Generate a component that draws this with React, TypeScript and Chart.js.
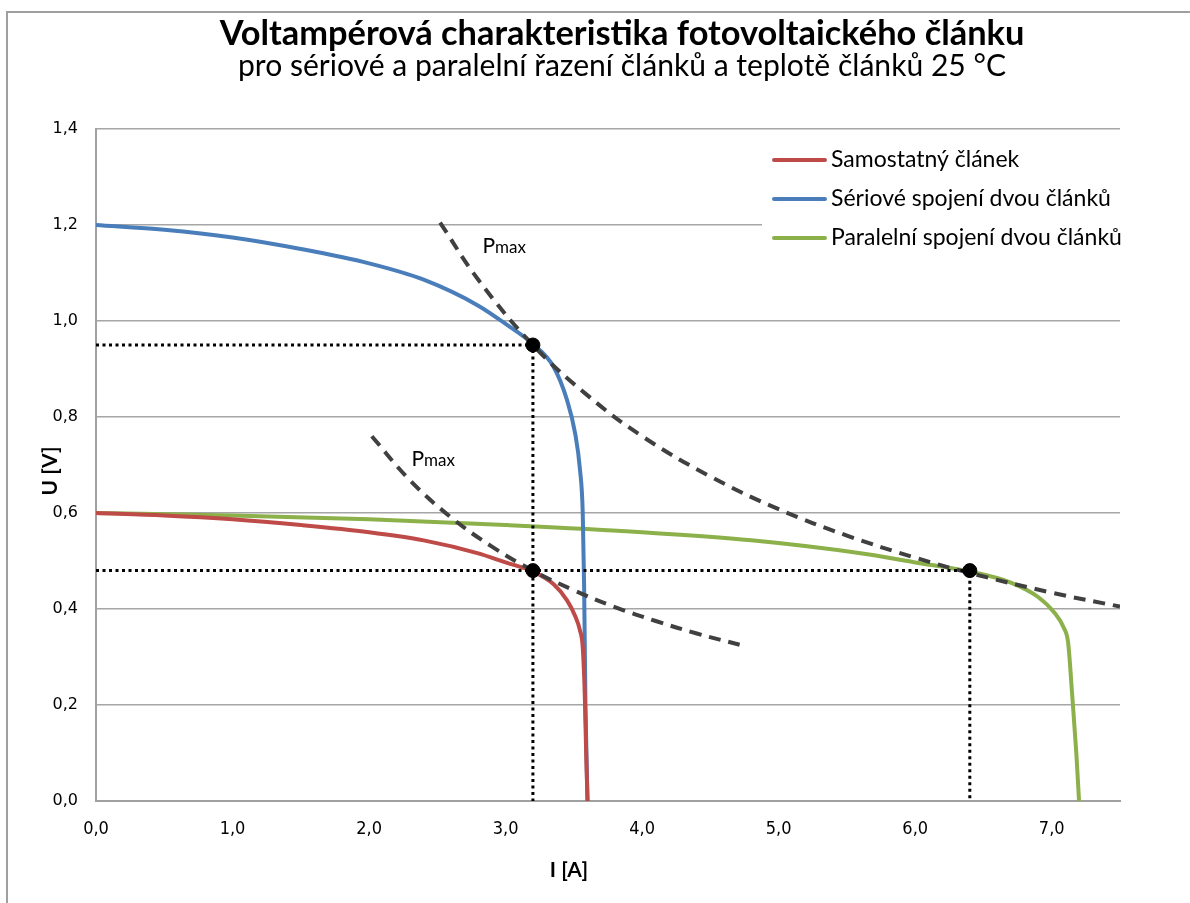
import React, { useEffect, useRef } from "react";
import { Chart, registerables } from "chart.js";

Chart.register(...registerables);

const TITLE = "Voltampérová charakteristika fotovoltaického článku";
const SUBTITLE = "pro sériové a paralelní řazení článků a teplotě článků 25 °C";
const X_TITLE = "I [A]";
const Y_TITLE = "U [V]";
const SERIES_LABELS = ["Samostatný článek", "Sériové spojení dvou článků", "Paralelní spojení dvou článků"];
const PMAX_LABEL = ["P", "max"];

// Samostatný článek (single cell)
const singleI = [0, 0.5, 1.0, 1.5, 2.0, 2.4, 2.8, 3.0, 3.2, 3.35, 3.45, 3.51, 3.545, 3.565, 3.58, 3.59, 3.6];
const singleU = [0.600, 0.595, 0.587, 0.575, 0.560, 0.543, 0.516, 0.497, 0.478, 0.452, 0.418, 0.385, 0.355, 0.32, 0.22, 0.10, 0.0];
// Sériové spojení
const seriesI = [0, 0.5, 1.0, 1.5, 2.0, 2.4, 2.8, 3.0, 3.2, 3.35, 3.45, 3.51, 3.545, 3.565, 3.575, 3.585, 3.6];
const seriesU = [1.200, 1.190, 1.174, 1.150, 1.120, 1.086, 1.032, 0.994, 0.952, 0.905, 0.835, 0.765, 0.690, 0.60, 0.45, 0.20, 0.0];
// Paralelní spojení
const parallelI = [0, 1.0, 2.0, 3.0, 4.0, 4.8, 5.6, 6.0, 6.4, 6.7, 6.9, 7.02, 7.09, 7.12, 7.15, 7.18, 7.2];
const parallelU = [0.600, 0.595, 0.587, 0.575, 0.560, 0.543, 0.516, 0.497, 0.478, 0.455, 0.425, 0.392, 0.360, 0.33, 0.22, 0.10, 0.0];

// Pmax curves (dashed)
const pmaxSingleI = [2.02, 2.3, 2.6, 2.9, 3.2, 3.5, 3.8, 4.1, 4.4, 4.75];
const pmaxSingleU = [0.760, 0.668, 0.591, 0.530, 0.480, 0.439, 0.404, 0.375, 0.349, 0.323];
const pmaxSeriesI = [2.52, 2.8, 3.2, 3.6, 4.0, 4.5, 5.0, 5.5, 6.0, 6.4, 7.0, 7.5];
const pmaxSeriesU = [1.205, 1.086, 0.950, 0.845, 0.760, 0.676, 0.608, 0.553, 0.507, 0.475, 0.434, 0.405];

// Maximum power points
const mppI = [3.2, 3.2, 6.4];
const mppU = [0.95, 0.48, 0.48];

// Pmax label anchors (data coords)
const pmaxLabelI = [2.83, 2.31];
const pmaxLabelU = [1.158, 0.715];

const X_MIN = 0, X_MAX = 7.5, X_STEP = 1.0;
const Y_MIN = 0, Y_MAX = 1.4, Y_STEP = 0.2;

const COLORS = ["#BE4B48", "#4A7EBB", "#8CB04A"];
const FONT = "Lato, 'Open Sans', sans-serif";

const pts = (xs: number[], ys: number[]) => xs.map((x, i) => ({ x, y: ys[i] }));
const fmt = (v: number) => v.toFixed(1).replace(".", ",");

function fitFont(ctx: CanvasRenderingContext2D, text: string, weight: string, target: number, base: number) {
  ctx.font = `${weight} ${base}px ${FONT}`;
  const w = ctx.measureText(text).width;
  const size = base * target / w;
  return `${weight} ${size.toFixed(2)}px ${FONT}`;
}

const decor = {
  id: "decor",
  beforeDraw(chart: any) {
    const ctx = chart.ctx as CanvasRenderingContext2D;
    ctx.save();
    ctx.fillStyle = "#ffffff";
    ctx.fillRect(0, 0, chart.width, chart.height);
    ctx.strokeStyle = "#a0a0a0";
    ctx.lineWidth = 2;
    ctx.beginPath();
    ctx.moveTo(7, chart.height + 5);
    ctx.lineTo(7, 12);
    ctx.lineTo(chart.width + 5, 12);
    ctx.stroke();
    ctx.restore();
  },
  afterDatasetsDraw(chart: any) {
    const ctx = chart.ctx as CanvasRenderingContext2D;
    const xs = chart.scales.x;
    const ys = chart.scales.y;
    ctx.save();
    // legend box
    ctx.fillStyle = "#ffffff";
    ctx.fillRect(762, 140, 380, 122);
    const items = chart.data.datasets.filter((d: any) => SERIES_LABELS.includes(d.label));
    items.forEach((d: any, i: number) => {
      const yc = 160 + i * 39;
      ctx.strokeStyle = d.borderColor;
      ctx.lineWidth = 4;
      ctx.lineCap = "round";
      ctx.beginPath();
      ctx.moveTo(774, yc);
      ctx.lineTo(825, yc);
      ctx.stroke();
      ctx.fillStyle = "#000";
      ctx.font = `23px ${FONT}`;
      ctx.textAlign = "left";
      ctx.textBaseline = "middle";
      ctx.fillText(d.label, 831, yc);
    });
    // Pmax labels
    pmaxLabelI.forEach((iv, k) => {
      const px = xs.getPixelForValue(iv);
      const py = ys.getPixelForValue(pmaxLabelU[k]);
      ctx.fillStyle = "#000";
      ctx.textBaseline = "alphabetic";
      ctx.textAlign = "left";
      ctx.font = `21px ${FONT}`;
      ctx.fillText(PMAX_LABEL[0], px, py + 8);
      const w = ctx.measureText(PMAX_LABEL[0]).width;
      ctx.font = `17px ${FONT}`;
      ctx.fillText(PMAX_LABEL[1], px + w, py + 8);
    });
    ctx.restore();
  },
  afterDraw(chart: any) {
    const ctx = chart.ctx as CanvasRenderingContext2D;
    ctx.save();
    ctx.fillStyle = "#000";
    ctx.textAlign = "center";
    ctx.textBaseline = "alphabetic";
    ctx.font = fitFont(ctx, TITLE, "bold", 805, 30);
    ctx.fillText(TITLE, 622, 45);
    ctx.font = fitFont(ctx, SUBTITLE, "normal", 768, 26);
    ctx.fillText(SUBTITLE, 622, 76);
    ctx.font = `bold 21px ${FONT}`;
    ctx.textBaseline = "middle";
    ctx.fillText(X_TITLE, 569, 870);
    ctx.translate(50, 471);
    ctx.rotate(-Math.PI / 2);
    ctx.fillText(Y_TITLE, 0, 0);
    ctx.restore();
  },
};

export default function App() {
  const ref = useRef<HTMLCanvasElement | null>(null);
  useEffect(() => {
    if (!ref.current) return;
    const lineDs = (label: string, data: any[], color: string, order: number) => ({
      label,
      data,
      borderColor: color,
      backgroundColor: color,
      borderWidth: 4,
      showLine: true,
      pointRadius: 0,
      cubicInterpolationMode: "monotone" as const,
      order,
    });
    const dotted = { borderColor: "#000", borderWidth: 3, borderDash: [3, 3.5], showLine: true, pointRadius: 0, order: 1 };
    const dashed = { borderColor: "#404040", borderWidth: 4, borderDash: [12, 8], showLine: true, pointRadius: 0, tension: 0.4, order: 2 };
    const chart = new Chart(ref.current, {
      type: "scatter",
      data: {
        datasets: [
          lineDs(SERIES_LABELS[0], pts(singleI, singleU), COLORS[0], 3),
          lineDs(SERIES_LABELS[1], pts(seriesI, seriesU), COLORS[1], 4),
          lineDs(SERIES_LABELS[2], pts(parallelI, parallelU), COLORS[2], 5),
          { label: "Pmax 1", data: pts(pmaxSingleI, pmaxSingleU), ...dashed },
          { label: "Pmax 2", data: pts(pmaxSeriesI, pmaxSeriesU), ...dashed },
          { label: "g1", data: [{ x: X_MIN, y: mppU[0] }, { x: mppI[0], y: mppU[0] }, { x: mppI[0], y: Y_MIN }], ...dotted },
          { label: "g2", data: [{ x: X_MIN, y: mppU[1] }, { x: mppI[2], y: mppU[2] }, { x: mppI[2], y: Y_MIN }], ...dotted },
          { label: "MPP", data: pts(mppI, mppU), pointRadius: 7, pointBackgroundColor: "#000", pointBorderColor: "#000", showLine: false, order: 0 } as any,
        ] as any,
      },
      options: {
        animation: false,
        responsive: false,
        layout: { padding: { top: 129, right: 70, left: 0, bottom: 0 } },
        plugins: { legend: { display: false }, tooltip: { enabled: false }, title: { display: false } },
        scales: {
          x: {
            type: "linear",
            min: X_MIN,
            max: X_MAX,
            grid: { display: false, drawTicks: false },
            border: { display: true, color: "#a0a0a0", width: 2 },
            ticks: { stepSize: X_STEP, includeBounds: false, padding: 18, color: "#000", font: { family: "'DejaVu Sans Condensed', 'DejaVu Sans', sans-serif", size: 18 }, callback: (v: any) => fmt(Number(v)) },
            afterFit: (s: any) => { s.height = 102; },
          },
          y: {
            type: "linear",
            min: Y_MIN,
            max: Y_MAX,
            grid: { color: "#a6a6a6", lineWidth: 1.5, drawTicks: false },
            border: { display: true, color: "#a0a0a0", width: 2 },
            ticks: { stepSize: Y_STEP, padding: 18, color: "#000", font: { family: "'DejaVu Sans', sans-serif", size: 16 }, callback: (v: any) => fmt(Number(v)) },
            afterFit: (s: any) => { s.width = 96; },
          },
        },
      } as any,
      plugins: [decor],
    });
    return () => chart.destroy();
  }, []);
  return (
    <div style={{ position: "fixed", left: 0, top: 0, width: 1190, height: 903, background: "#fff" }}>
      <canvas ref={ref} width={1190} height={903} style={{ display: "block", width: 1190, height: 903 }} />
    </div>
  );
}
